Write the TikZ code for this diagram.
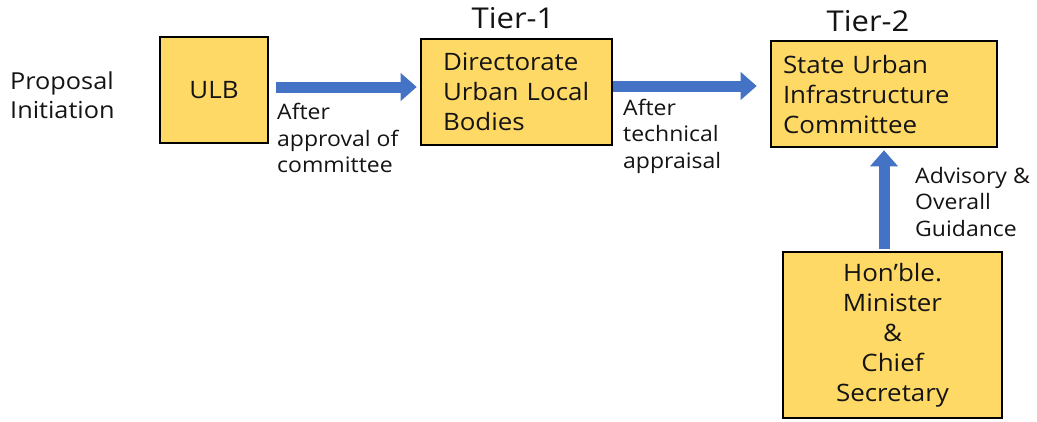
\documentclass[tikz,border=0pt]{standalone}
\usepackage{fontspec}
\setmainfont{Open Sans}[FakeStretch=1.08]
\usetikzlibrary{arrows.meta,calc}
\definecolor{boxfill}{HTML}{FFD966}
\definecolor{arrowblue}{HTML}{4472C4}
\definecolor{txt}{HTML}{141414}
\tikzset{
  box/.style={draw=black, line width=2.6pt, fill=boxfill, rectangle, text=txt, inner sep=0pt},
  bigarrow/.style={draw=arrowblue, line width=11pt, -{Triangle[width=27pt,length=16pt]}},
  lbl/.style={text=txt, inner sep=0pt, align=left, font=\fontsize{21.3}{26.5}\selectfont},
}
\begin{document}
\begin{tikzpicture}[x=1pt,y=-1pt]
\useasboundingbox[fill=white] (0,0) rectangle (1037,421);
% boxes
\node[box, minimum width=108, minimum height=106, font=\fontsize{24}{30}\selectfont] (ulb) at (214,90) {ULB};
\node[box, minimum width=191, minimum height=106, text width=147, inner xsep=22pt, align=left, font=\fontsize{24}{30}\selectfont] (dir) at (516.5,92) {Directorate\\Urban Local\\Bodies};
\node[box, minimum width=226, minimum height=106, text width=202, inner xsep=12pt, align=left, font=\fontsize{24}{30}\selectfont] (suic) at (884,94) {State Urban\\Infrastructure\\Committee};
\node[box, minimum width=219, minimum height=166, align=center, font=\fontsize{24}{30}\selectfont] (hon) at (892.5,335) {Hon’ble.\\Minister\\\&\\Chief\\Secretary};
% free texts
\node[text=txt, inner sep=0pt, align=left, anchor=west, font=\fontsize{23.4}{29}\selectfont] (prop) at (10,95) {Proposal\\Initiation};
\node[text=txt, inner sep=0pt, font=\fontsize{28.7}{32}\selectfont] (tier1) at (513,18) {Tier-1};
\node[text=txt, inner sep=0pt, font=\fontsize{28.7}{32}\selectfont] (tier2) at (868,21) {Tier-2};
\node[lbl, anchor=west] (l1) at (277,138) {After\\approval of\\committee};
\node[lbl, anchor=west] (l2) at (623,136) {After\\technical\\appraisal};
\node[lbl, anchor=west] (l3) at (915,202) {Advisory \&\\Overall\\Guidance};
% arrows
\draw[bigarrow] ($(ulb.east)+(7,-3)$) -- ($(dir.west)+(-3,-5)$);
\draw[bigarrow] ($(dir.east)+(0,-6)$) -- ($(suic.west)+(-13,-8)$);
\draw[bigarrow] ($(suic.south |- hon.north)+(0,-2)$) -- ($(suic.south)+(0,2)$);
\end{tikzpicture}
\end{document}
